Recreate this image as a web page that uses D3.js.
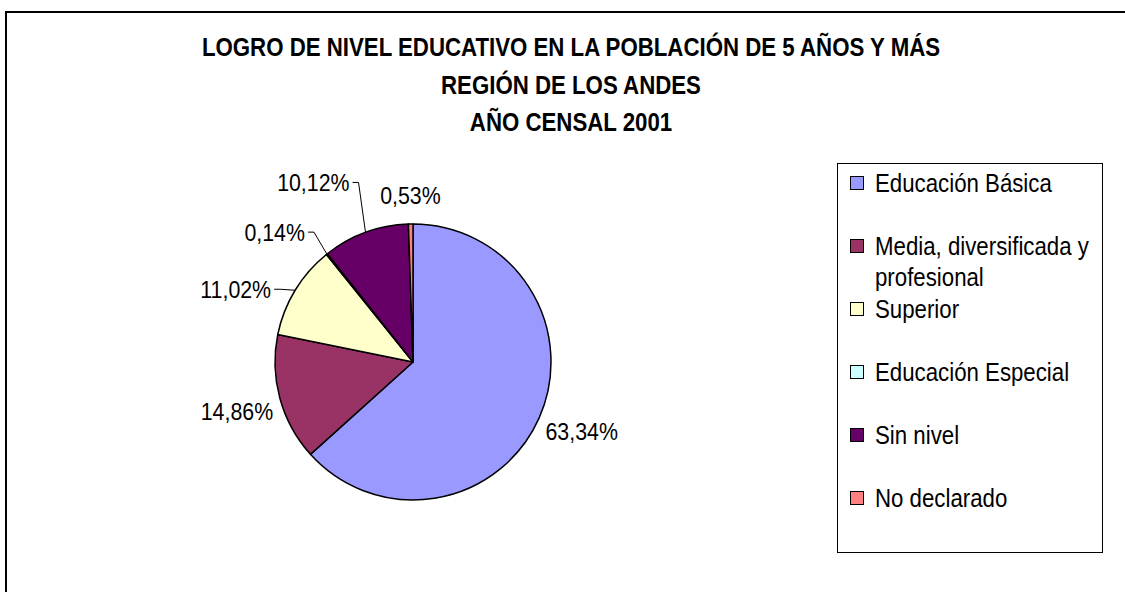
<!DOCTYPE html>
<html>
<head>
<meta charset="utf-8">
<script src="https://cdn.jsdelivr.net/npm/d3@7"></script>
<style>
  body { margin: 0; background: #fff; }
  svg text { font-family: 'Liberation Sans', Arial, sans-serif; fill: #000; }
</style>
</head>
<body>
<svg id="chart"></svg>
<script>
const titleLines = [
  'LOGRO DE NIVEL EDUCATIVO EN LA POBLACIÓN DE 5 AÑOS Y MÁS',
  'REGIÓN DE LOS ANDES',
  'AÑO CENSAL 2001'
];
const categories = [
  'Educación Básica',
  'Media, diversificada y profesional',
  'Superior',
  'Educación Especial',
  'Sin nivel',
  'No declarado'
];
const values = [63.34, 14.86, 11.02, 0.14, 10.12, 0.53];
const labels = ['63,34%', '14,86%', '11,02%', '0,14%', '10,12%', '0,53%'];
const colors = ['#9999ff', '#993366', '#ffffcc', '#ccffff', '#660066', '#ff8080'];

// slices whose label Excel pulled out with a leader line (offset from arc edge)
const leaders = { 2: [-15, -1], 3: [-13, -22], 4: [-7, -50] };

const W = 1125, H = 592;
const cx = 413, cy = 362, r = 138;
const SX = 0.89; // narrow look: squeeze the text horizontally

const svg = d3.select('#chart').attr('width', W).attr('height', H);
const narrow = (x, y) => `translate(${x},${y}) scale(${SX},1)`;

// outer frame (runs off the right and bottom edges)
svg.append('rect')
  .attr('x', 6).attr('y', 12)
  .attr('width', 1200).attr('height', 700)
  .attr('fill', '#fff').attr('stroke', '#000').attr('stroke-width', 2);

svg.append('g').selectAll('text')
  .data(titleLines)
  .enter()
  .append('text')
  .attr('transform', (d, i) => narrow(571, 56 + i * 37.5))
  .attr('text-anchor', 'middle')
  .attr('font-size', 25)
  .attr('font-weight', 'bold')
  .text(d => d);

const pie = d3.pie().sort(null).value(d => d)(values);
const arc = d3.arc().innerRadius(0).outerRadius(r);

const g = svg.append('g').attr('transform', `translate(${cx},${cy})`);

g.selectAll('path')
  .data(pie)
  .enter()
  .append('path')
  .attr('d', arc)
  .attr('fill', (d, i) => colors[i])
  .attr('stroke', '#000')
  .attr('stroke-width', 1.5)
  .attr('stroke-linejoin', 'round');

// data labels
pie.forEach((d, i) => {
  const a = (d.startAngle + d.endAngle) / 2;
  const s = Math.sin(a), c = Math.cos(a);
  const lab = g.append('text')
    .attr('font-size', 24)
    .attr('dominant-baseline', 'central')
    .text(labels[i]);
  if (leaders[i]) {
    const ex = r * s, ey = -r * c;
    const bx = ex + leaders[i][0], by = ey + leaders[i][1];
    g.append('polyline')
      .attr('points', [[ex, ey], [bx, by], [bx - 6, by]].map(p => p.join(',')).join(' '))
      .attr('fill', 'none')
      .attr('stroke', '#000')
      .attr('stroke-width', 1);
    lab.attr('transform', narrow(bx - 9, by)).attr('text-anchor', 'end');
  } else {
    const R = Math.abs(s) < 0.2 ? 155 : 145;
    const x = R * s, y = -R * c;
    lab.attr('transform', narrow(x, y + (c < 0 ? 11 : -11)))
      .attr('text-anchor', s > 0.2 ? 'start' : (s < -0.2 ? 'end' : 'middle'));
  }
});

// legend
const lg = svg.append('g');
lg.append('rect')
  .attr('x', 837.5).attr('y', 163.5)
  .attr('width', 265).attr('height', 389)
  .attr('fill', '#fff').attr('stroke', '#000').attr('stroke-width', 1);

const items = lg.selectAll('g.item')
  .data(categories)
  .enter()
  .append('g')
  .attr('class', 'item')
  .attr('transform', (d, i) => `translate(0,${183 + i * 63})`);

items.append('rect')
  .attr('x', 850.5).attr('y', -6.5)
  .attr('width', 13).attr('height', 13)
  .attr('fill', (d, i) => colors[i])
  .attr('stroke', '#000').attr('stroke-width', 1);

const maxW = 224 / SX;
items.append('text')
  .attr('transform', narrow(875, 0))
  .attr('font-size', 25)
  .each(function (d) {
    const t = d3.select(this);
    const words = d.split(' ');
    let line = [], n = 0;
    let ts = t.append('tspan').attr('x', 0).attr('y', 0).attr('dy', '0.35em');
    words.forEach(w => {
      line.push(w);
      ts.text(line.join(' '));
      if (ts.node().getComputedTextLength() > maxW && line.length > 1) {
        line.pop();
        ts.text(line.join(' '));
        line = [w];
        n++;
        ts = t.append('tspan').attr('x', 0).attr('y', n * 31).attr('dy', '0.35em').text(w);
      }
    });
  });
</script>
</body>
</html>
